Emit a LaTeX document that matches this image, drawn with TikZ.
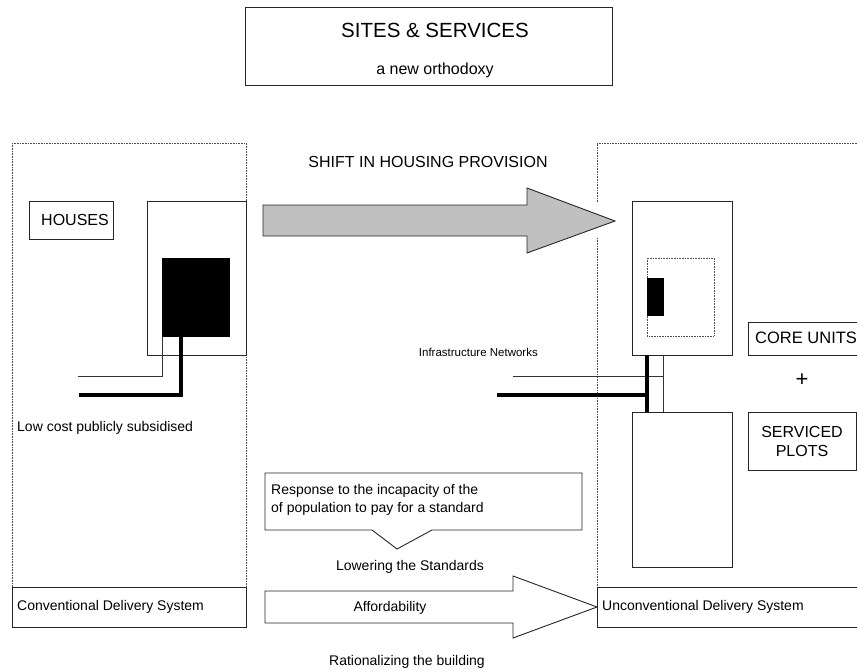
\documentclass[tikz,border=0pt]{standalone}
\usepackage{fontspec}
\setmainfont{Liberation Sans}
\definecolor{shiftgray}{RGB}{192,192,192}
\tikzset{
  frame/.style={draw=black!70, dash pattern=on 0.8pt off 0.8pt, line width=0.8pt},
  plain/.style={draw=black!85, line width=0.9pt},
  pipe/.style={draw=black, line width=4pt},
  wire/.style={draw=black!80, line width=0.9pt},
  txt/.style={inner sep=0pt, font=\fontsize{14}{18}\selectfont},
  bigtxt/.style={inner sep=0pt, font=\fontsize{16}{19}\selectfont}
}
\begin{document}
\begin{tikzpicture}[x=1pt,y=-1pt]
	\useasboundingbox (0,0) rectangle (857,672);
	\clip (0,0) rectangle (857,672);

	% title
	\draw[plain] (245,7) rectangle (612,85);
	\node[inner sep=0pt, font=\fontsize{20.5}{24}\selectfont] (title) at (435,30) {SITES \& SERVICES};
	\node[txt, font=\fontsize{16}{18}\selectfont] (subtitle) at (435,70) {a new orthodoxy};

	% frames
	\draw[frame] (12,143) rectangle (246,587);
	\draw[frame] (597,202) -- (597,143) -- (880,143);
	\draw[frame] (597,238) -- (597,587);

	% shift arrow
	\draw[plain, fill=shiftgray] (263,205) -- (527,205) -- (527,188) -- (615,221)
		-- (527,253) -- (527,236) -- (263,236) -- cycle;
	\node[bigtxt] (shift) at (428,162) {SHIFT IN HOUSING PROVISION};

	% left side: houses
	\draw[plain] (29,201) rectangle (113,239);
	\node[bigtxt, anchor=west] (houses) at (41,220) {HOUSES};
	\draw[plain] (147,201) rectangle (246,355);
	\fill (162,258) rectangle (230,337);
	\coordinate (hthin) at (162,337);
	\coordinate (hthick) at (181,337);
	\coordinate (lthin) at (78,376);
	\coordinate (lthick) at (79,395);
	\draw[wire] (lthin) -| (hthin);
	\draw[pipe] (lthick) -| (hthick);
	\node[txt, anchor=west] (lowcost) at (17,428) {Low cost publicly subsidised};

	% right side: core unit and plot
	\draw[plain] (632,201) rectangle (732,355);
	\draw[frame] (647,258) rectangle (714,336);
	\fill (647,278) rectangle (664,316);
	\draw[plain] (632,412) rectangle (732,567);
	\coordinate (rthin) at (513,376);
	\coordinate (rthick) at (497,395);
	\coordinate (cthin) at (663,355);
	\coordinate (cthick) at (647,355);
	\coordinate (pthin) at (663,412);
	\coordinate (pthick) at (647,412);
	\draw[wire] (cthin) -- (pthin);
	\draw[wire] (rthin) -- (rthin -| cthin);
	\draw[pipe] (cthick) -- (pthick);
	\draw[pipe] (rthick) -- (rthick -| cthick);
	\node[inner sep=0pt, font=\fontsize{11.5}{14}\selectfont, anchor=east] (infra) at (538,352) {Infrastructure Networks};

	% options
	\draw[plain] (748,322) rectangle (880,355);
	\node[bigtxt, anchor=west, font=\fontsize{16.5}{19}\selectfont] (core) at (755,338) {CORE UNITS};
	\node[inner sep=0pt, font=\fontsize{22}{24}\selectfont] (plus) at (802,380) {+};
	\draw[plain] (748,412) rectangle (856,470);
	\node[bigtxt, align=center] (plots) at (802,441) {SERVICED\\PLOTS};

	% response callout
	\draw[plain] (265,473) -- (582,473) -- (582,530) -- (432,530) -- (397,549)
		-- (372,530) -- (265,530) -- cycle;
	\node[txt, align=left, anchor=north west] (response) at (271,484)
		{Response to the incapacity of the\\of population to pay for a standard};
	\node[txt] (lowering) at (410,567) {Lowering the Standards};

	% delivery systems
	\draw[plain] (12,587) rectangle (246,627);
	\node[txt, anchor=west] (conv) at (17,607) {Conventional Delivery System};
	\draw[plain] (597,587) rectangle (880,627);
	\node[txt, anchor=west] (unconv) at (602,607) {Unconventional Delivery System};

	% affordability arrow
	\draw[plain, fill=white] (265,591) -- (513,591) -- (513,576) -- (597,607)
		-- (513,638) -- (513,623) -- (265,623) -- cycle;
	\node[txt] (afford) at (390,608) {Affordability};
	\node[txt] (rational) at (407,662) {Rationalizing the building};
\end{tikzpicture}
\end{document}
